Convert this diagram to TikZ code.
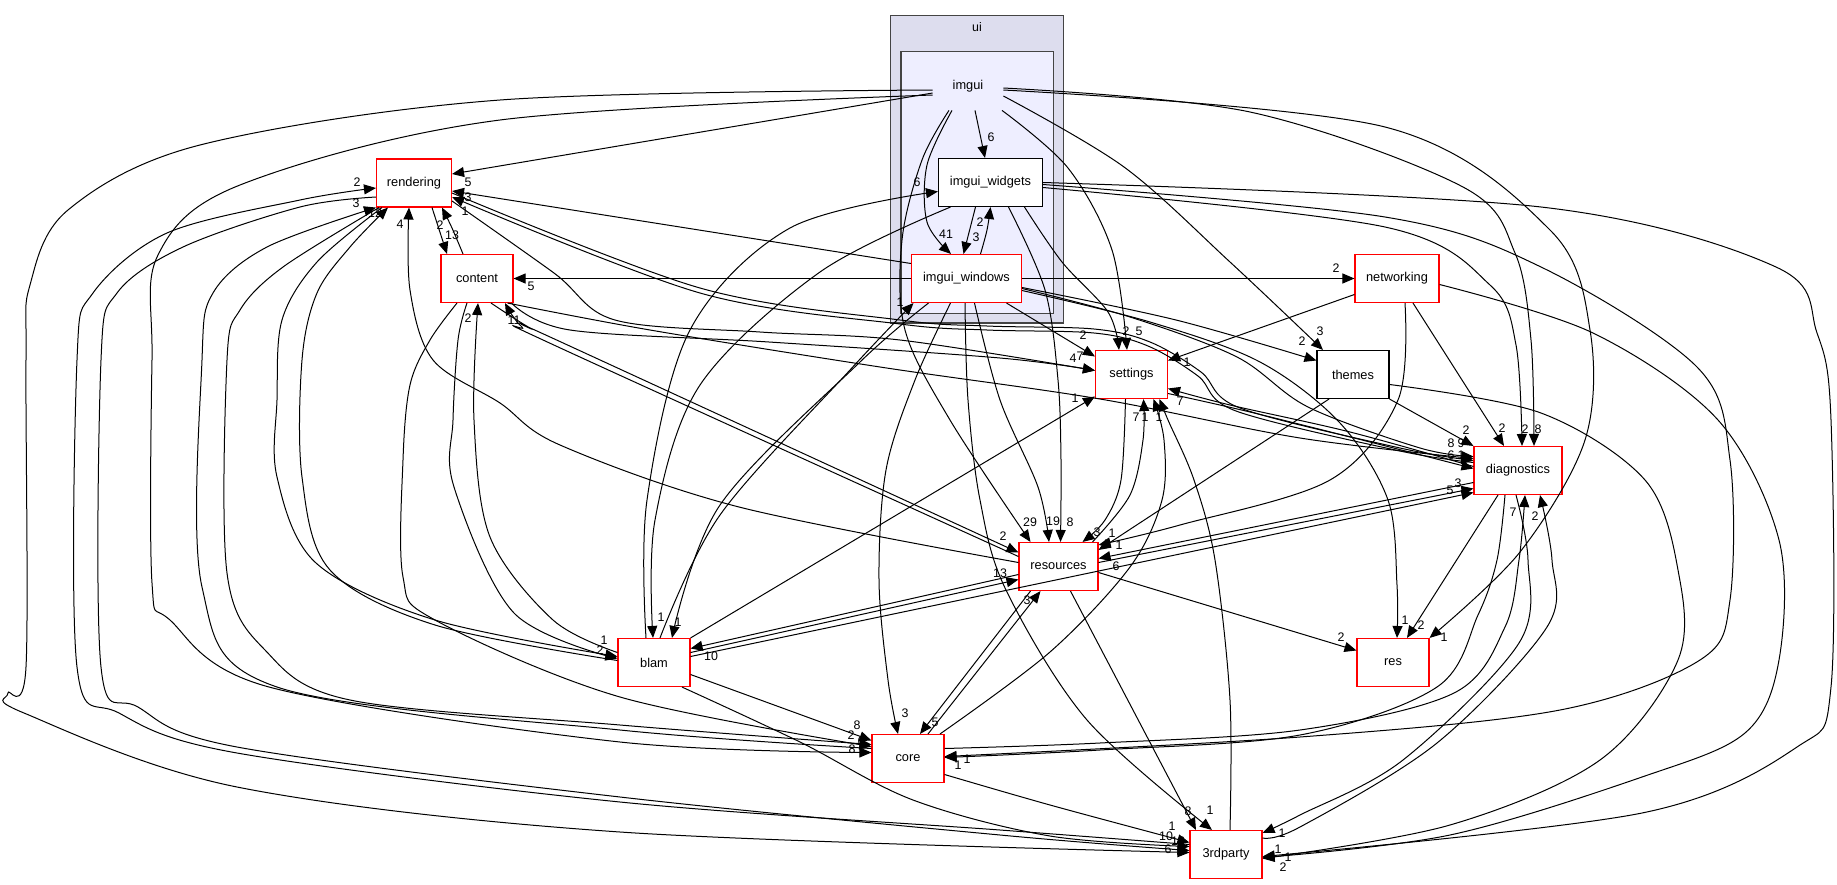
\documentclass[tikz,border=0pt]{standalone}
\usepackage{fontspec}
\setmainfont{Liberation Sans}
\usetikzlibrary{arrows.meta}
\definecolor{uif}{HTML}{DDDDEE}
\definecolor{igf}{HTML}{EEEEFF}
\definecolor{clb}{HTML}{444444}
\pgfdeclarelayer{bg}
\pgfsetlayers{bg,main}
\begin{document}
\begin{tikzpicture}[x=0.5pt,y=-0.5pt,
  bx/.style={draw=red, line width=0.55pt, fill=white, minimum height=24pt, inner sep=0pt, font=\fontsize{6.4}{7}\selectfont},
  bk/.style={bx, draw=black},
  cl/.style={draw=clb, line width=0.75pt, inner sep=0pt},
  e/.style={line width=0.5pt, -{Triangle[length=6pt,width=5pt]}},
  lb/.style={font=\fontsize{6.2}{7}\selectfont, inner sep=0pt},
  sm/.style={smooth, tension=0.55}]
\useasboundingbox (0,0) rectangle (1837,884);
\begin{pgfonlayer}{bg}
\fill[white] (0,0) rectangle (1837,884);
\node[cl, fill=uif, minimum width=86.5pt, minimum height=153.65pt] (uicl) at (977.2,169.35) {};
\node[cl, fill=igf, minimum width=76.15pt, minimum height=130.8pt] (igcl) at (977.15,182.5) {};
\end{pgfonlayer}
\node[lb] (uil) at (977,27) {ui};
\node[lb, font=\fontsize{6.4}{7}\selectfont, minimum width=35pt, minimum height=24pt] (I) at (968,86) {imgui};
% nodes
\node[bx, minimum width=37.5pt] (R) at (414,183) {rendering};
\node[bx, minimum width=36pt] (C) at (477,278.5) {content};
\node[bk, minimum width=52pt] (W) at (990.5,182.5) {imgui\_widgets};
\node[bx, minimum width=55pt] (N) at (966.5,278.5) {imgui\_windows};
\node[bx, minimum width=36pt] (S) at (1131.5,374.5) {settings};
\node[bk, minimum width=36pt] (T) at (1353,374.5) {themes};
\node[bx, minimum width=42pt] (K) at (1397,278.5) {networking};
\node[bx, minimum width=44pt] (D) at (1518,470.5) {diagnostics};
\node[bx, minimum width=39.5pt] (Rs) at (1058.5,566.5) {resources};
\node[bx, minimum width=36pt] (Re) at (1393,662.5) {res};
\node[bx, minimum width=36pt] (B) at (654,662.5) {blam};
\node[bx, minimum width=36pt] (Co) at (908,758.5) {core};
\node[bx, minimum width=36pt] (P) at (1226,854.5) {3rdparty};
% edges from imgui
\draw[e] ([xshift=3.5pt]I.south) -- ([xshift=-2.75pt]W.north) node[lb] at (991,137) {6};
\draw[e] plot[sm] coordinates {([xshift=-8pt]I.south) (927,165) (927,222) ([xshift=-7.75pt]N.north)} node[lb] at (946,234) {41};
\draw[e] ([yshift=-3.5pt]I.west) -- ([yshift=4.5pt]R.east) node[lb] at (468,182) {5};
\draw[e] plot[sm] coordinates {([xshift=17pt]I.south) (1068,168) (1112,250) ([xshift=-2.25pt]S.north)} node[lb] at (1139,331) {5};
\draw[e] plot[sm] coordinates {([yshift=-5pt]I.east) (1124,167) (1230,262) ([xshift=-15pt]T.north)} node[lb] at (1320,331) {3};
\draw[e] plot[sm] coordinates {([yshift=-1pt]I.east) (1250,112) (1463,187) (1515,253) (1531,340) ([xshift=8pt]D.north)} node[lb] at (1538,429) {8};
\draw[e] plot[sm] coordinates {([yshift=-2pt]I.east) (1385,127) (1550,230) (1590,330) (1585,440) (1520,552) (Re.north east)} node[lb] at (1444,637) {1};
\draw[e] plot[sm] coordinates {([xshift=-9.5pt]I.south) (922,160) (902,240) (905,330) (950,420) ([xshift=-14pt]Rs.north)} node[lb] at (1030,522) {29};
\draw[e] plot[sm] coordinates {([yshift=-4.5pt]I.west) (500,120) (240,185) (158,255) (152,360) (152,583) (170,620) (269,687) (620,742) ([yshift=3pt]Co.west)} node[lb] at (861,741) {6};
\draw[e] plot[sm] coordinates {([yshift=-2pt]I.west) (500,100) (200,145) (68,210) (30,285) (26,360) (26,667) (8,693) (24,713) (237,787) (620,832) ([yshift=1pt]P.west)} node[lb] at (1178,841) {16};
% imgui_widgets
\draw[e] ([xshift=-7.5pt]W.south) -- ([xshift=-1.5pt]N.north) node[lb] at (976,237) {3};
\draw[e] plot[sm] coordinates {([xshift=17pt]W.south) (1062,262) (1108,312) ([xshift=-6.25pt]S.north)} node[lb] at (1126,331) {2};
\draw[e] plot[sm] coordinates {([yshift=-2.5pt]W.east) (1385,227) (1490,285) (1516,345) ([xshift=2pt]D.north)} node[lb] at (1525,429) {2};
\draw[e] plot[sm] coordinates {(W.east) (1541,207) (1776,267) (1817,333) (1831,420) (1831,687) (1797,747) (1642,813) ([yshift=-1pt]P.east)} node[lb] at (1283,867) {2};
\draw[e] plot[sm] coordinates {([yshift=-1pt]W.east) (1385,217) (1541,267) (1697,367) (1730,460) (1730,600) (1700,660) (1560,710) (1300,737) ([yshift=1pt]Co.east)} node[lb] at (958,765) {1};
\draw[e] plot[sm] coordinates {([xshift=9pt]W.south) (1045,290) (1058,380) (1061,460) ([xshift=1pt]Rs.north)} node[lb] at (1070,522) {8};
\draw[e] plot[sm] coordinates {([xshift=-20pt]W.south) (820,272) (700,385) (655,520) ([xshift=-0.5pt]B.north)} node[lb] at (661,617) {1};
% imgui_windows
\draw[e] plot[sm] coordinates {([xshift=7pt]N.north) (987,230) (W.south)} node[lb] at (980,222) {2};
\draw[e] ([yshift=7.5pt]N.west) -- ([yshift=-4pt]R.east) node[lb] at (468,197) {3};
\draw[e] (N.west) -- (C.east) node[lb] at (531,286) {5};
\draw[e] (N.east) -- (K.west) node[lb] at (1336,268) {2};
\draw[e] ([xshift=20pt]N.south) -- ([yshift=9pt]S.west) node[lb] at (1083,335) {2};
\draw[e] plot[sm] coordinates {([yshift=-4.5pt]N.east) (1176,320) ([yshift=7pt]T.west)} node[lb] at (1302,341) {2};
\draw[e] plot[sm] coordinates {([yshift=-6pt]N.east) (1150,322) (1260,362) (1340,423) (1388,500) (1397,585) ([xshift=2pt]Re.north)} node[lb] at (1405,620) {1};
\draw[e] plot[sm] coordinates {([yshift=-5pt]N.east) (1130,317) (1237,357) (1308,407) (1420,448) ([yshift=7pt]D.west)} node[lb] at (1461,443) {9};
\draw[e] plot[sm] coordinates {([xshift=-0.75pt]N.south) (968,400) (980,500) (1006,590) (1087,720) ([xshift=-7pt]P.north)} node[lb] at (1210,810) {1};
\draw[e] plot[sm] coordinates {([xshift=-8pt]N.south) (915,380) (886,470) (879,580) (888,680) ([xshift=-5pt]Co.north)} node[lb] at (905,713) {3};
\draw[e] plot[sm] coordinates {([xshift=4pt]N.south) (1000,400) (1038,487) ([xshift=-4.75pt]Rs.north)} node[lb] at (1053,521) {19};
\draw[e] plot[sm] coordinates {([xshift=-19pt]N.south) (860,362) (720,505) ([xshift=9pt]B.north)} node[lb] at (678,622) {1};
% rendering / content
\draw[e] ([xshift=9pt]R.south) -- ([xshift=-15pt]C.north) node[lb] at (440,225) {2};
\draw[e] plot[sm] coordinates {([xshift=-7pt]C.north) (452,228) ([xshift=14pt]R.south)} node[lb] at (452,235) {13};
\draw[e] plot[sm] coordinates {([yshift=-9pt]R.east) (554,273) (615,320) (760,332) (900,340) ([yshift=2pt]S.west)} node[lb] at (1073,358) {4};
\draw[e] plot[sm] coordinates {([xshift=-1pt]C.south east) (570,330) (769,342) (1000,358) ([yshift=2pt]S.west)} node[lb] at (1080,356) {7};
\draw[e] plot[sm] coordinates {([yshift=-5pt]R.east) (700,288) (900,320) (987,326) (1094,329) (1150,342) (1201,372) (1240,408) (1400,448) ([yshift=5pt]D.west)} node[lb] at (1461,455) {1};
\draw[e] plot[sm] coordinates {([yshift=4pt]D.west) (1400,451) (1236,411) (1198,376) (1148,346) (1094,333) (987,330) (900,324) (700,293) ([yshift=-7pt]R.east)} node[lb] at (465,211) {1};
\draw[e] plot[sm] coordinates {([xshift=-3pt]C.south east) (650,330) (880,367) (1100,399) (1300,438) ([yshift=6pt]D.west)} node[lb] at (1451,443) {8};
\draw[e] plot[sm] coordinates {([yshift=-7pt]R.west) (300,207) (183,247) (117,293) (101,360) (101,667) (138,707) (237,747) (620,797) (1000,835) ([yshift=2pt]P.west)} node[lb] at (1166,836) {10};
\draw[e] plot[sm] coordinates {([yshift=5pt]P.west) (1000,830) (620,802) (237,753) (119,713) (77,667) (77,360) (93,293) (167,233) (300,200) ([yshift=-2.5pt]R.west)} node[lb] at (357,182) {2};
\draw[e] plot[sm] coordinates {([xshift=1.5pt]R.south west) (283,267) (240,310) (227,360) (227,573) (265,650) (350,700) (620,725) ([yshift=7pt]Co.west)} node[lb] at (851,735) {2};
\draw[e] plot[sm] coordinates {([yshift=5pt]Co.west) (620,730) (277,687) (202,587) (202,360) (213,293) (267,247) (R.south west)} node[lb] at (356,203) {3};
\draw[e] plot[sm] coordinates {([xshift=3pt]R.south west) (317,262) (282,320) (277,400) (277,477) (316,563) (435,620) ([yshift=3pt]B.west)} node[lb] at (604,640) {1};
\draw[e] plot[sm] coordinates {([yshift=1pt]B.west) (435,625) (330,570) (302,477) (302,360) (317,293) (350,247) ([xshift=6pt]R.south west)} node[lb] at (375,213) {12};
\draw[e] plot[sm] coordinates {([xshift=-10pt]C.south) (430,340) (410,385) (403,460) (403,577) (435,620) (620,697) ([yshift=6pt]Co.west)} node[lb] at (852,749) {8};
\draw[e] plot[sm] coordinates {([xshift=-5pt]C.south) (458,340) (453,420) (454,487) (514,613) ([yshift=2pt]B.west)} node[lb] at (600,650) {2};
\draw[e] plot[sm] coordinates {([yshift=5pt]B.west) (553,620) (490,537) (474,420) ([xshift=0.5pt]C.south)} node[lb] at (468,318) {2};
\draw[e] plot[sm] coordinates {([xshift=7pt]C.south) (530,328) (561,342) ([yshift=7pt]Rs.west)} node[lb] at (1003,536) {2};
\draw[e] plot[sm] coordinates {([yshift=5pt]Rs.west) (556,346) (522,327) ([xshift=14pt]C.south)} node[lb] at (514,320) {11};
\draw[e] plot[sm] coordinates {([yshift=2pt]Rs.west) (739,507) (560,445) (500,403) (433,360) (410,290) ([xshift=-2.5pt]R.south)} node[lb] at (400,224) {4};
% settings, networking, themes
\draw[e] plot[sm] coordinates {([yshift=2pt]D.west) (1350,432) (1230,405) ([yshift=-7pt]S.east)} node[lb] at (1180,401) {7};
\draw[e] plot[sm] coordinates {([yshift=-9.5pt]S.east) (1250,412) (1370,442) ([yshift=1pt]D.west)} node[lb] at (1451,455) {6};
\draw[e] plot[sm] coordinates {([xshift=-3pt]S.south) (1121,480) (1105,520) ([xshift=12pt]Rs.north)} node[lb] at (1097,532) {3};
\draw[e] plot[sm] coordinates {([xshift=17pt]Rs.north) (1130,495) (1143,440) ([xshift=6pt]S.south)} node[lb] at (1136,417) {7};
\draw[e] plot[sm] coordinates {([xshift=16pt]Co.north) (1050,652) (1130,567) (1162,500) (1164,440) ([xshift=11pt]S.south)} node[lb] at (1145,417) {1};
\draw[e] plot[sm] coordinates {([xshift=2pt]P.north) (1230,700) (1215,560) (1194,480) (1168,420) ([xshift=14pt]S.south)} node[lb] at (1159,417) {1};
\draw[e] ([yshift=-8pt]K.west) -- ([yshift=7pt]S.east) node[lb] at (1187,362) {1};
\draw[e] ([xshift=8pt]K.south) -- ([xshift=-7pt]D.north) node[lb] at (1502,428) {2};
\draw[e] (T.south east) -- (D.north west) node[lb] at (1466,430) {2};
\draw[e] plot[sm] coordinates {([xshift=4pt]K.south) (1398,400) (1330,480) (1180,525) ([yshift=-1.5pt]Rs.north east)} node[lb] at (1112,533) {1};
\draw[e] ([xshift=-12pt]T.south) -- ([yshift=-4pt]Rs.north east) node[lb] at (1119,545) {1};
\draw[e] plot[sm] coordinates {([yshift=-5pt]T.east) (1541,413) (1645,480) (1678,570) (1678,660) (1600,760) (1450,825) ([yshift=-2pt]P.east)} node[lb] at (1278,849) {1};
\draw[e] plot[sm] coordinates {([yshift=-3pt]K.east) (1593,333) (1718,420) (1779,540) (1779,660) (1745,733) (1642,777) (1450,835) ([yshift=-1.5pt]P.east)} node[lb] at (1288,857) {1};
% diagnostics, resources
\draw[e] ([yshift=-6pt]D.west) -- ([yshift=4pt]Rs.east) node[lb] at (1116,566) {6};
\draw[e] ([yshift=2pt]Rs.east) -- ([yshift=-9pt]D.west) node[lb] at (1450,490) {5};
\draw[e] ([xshift=-10pt]D.south) -- ([xshift=7pt]Re.north) node[lb] at (1421,625) {2};
\draw[e] plot[sm] coordinates {([xshift=-6.5pt]D.south) (1497,560) (1478,615) (1437,687) (1300,735) (1100,750) ([yshift=0.5pt]Co.east)} node[lb] at (967,759) {1};
\draw[e] plot[sm] coordinates {([yshift=5pt]Co.east) (1100,743) (1300,730) (1454,693) (1505,627) (1519,560) ([xshift=3.5pt]D.south)} node[lb] at (1513,512) {7};
\draw[e] plot[sm] coordinates {([xshift=-1pt]D.south) (1528,560) (1519,643) (1403,760) (1300,815) ([yshift=-1.5pt]P.north east)} node[lb] at (1282,833) {1};
\draw[e] plot[sm] coordinates {([yshift=-4pt]P.north east) (1300,827) (1437,743) (1547,627) (1552,560) ([xshift=11pt]D.south)} node[lb] at (1535,516) {2};
\draw[e] ([yshift=-3pt]Rs.east) -- ([yshift=6pt]Re.west) node[lb] at (1341,637) {2};
\draw[e] ([xshift=6pt]Rs.south) -- ([xshift=-15pt]P.north) node[lb] at (1188,811) {8};
\draw[e] ([yshift=-4pt]Rs.west) -- ([yshift=7pt]B.east) node[lb] at (711,656) {10};
\draw[e] ([xshift=-14pt]Rs.south) -- ([xshift=6pt]Co.north) node[lb] at (935,722) {5};
% blam, core
\draw[e] plot[sm] coordinates {([xshift=3pt]B.north) (720,515) (850,370) ([xshift=-26.5pt]N.south)} node[lb] at (900,302) {1};
\draw[e] plot[sm] coordinates {([xshift=-4pt]B.north) (647,500) (690,330) (790,228) ([yshift=-4.5pt]W.west)} node[lb] at (917,182) {6};
\draw[e] ([yshift=3pt]B.east) -- ([yshift=-11pt]D.west) node[lb] at (1458,483) {3};
\draw[e] ([yshift=5pt]B.east) -- ([yshift=-6.5pt]Rs.west) node[lb] at (1000,573) {13};
\draw[e] (B.north east) -- ([yshift=-11pt]S.west) node[lb] at (1075,398) {1};
\draw[e] ([yshift=-6pt]B.east) -- ([yshift=9pt]Co.west) node[lb] at (857,725) {8};
\draw[e] plot[sm] coordinates {([xshift=14pt]B.south) (800,742) (913,800) (1050,836) ([yshift=4pt]P.west)} node[lb] at (1168,849) {6};
\draw[e] ([xshift=10pt]Co.north) -- ([xshift=-9pt]Rs.south) node[lb] at (1027,600) {3};
\draw[e] plot[sm] coordinates {([yshift=-8pt]Co.east) (1050,805) ([yshift=6pt]P.west)} node[lb] at (1172,826) {1};
\end{tikzpicture}
\end{document}
